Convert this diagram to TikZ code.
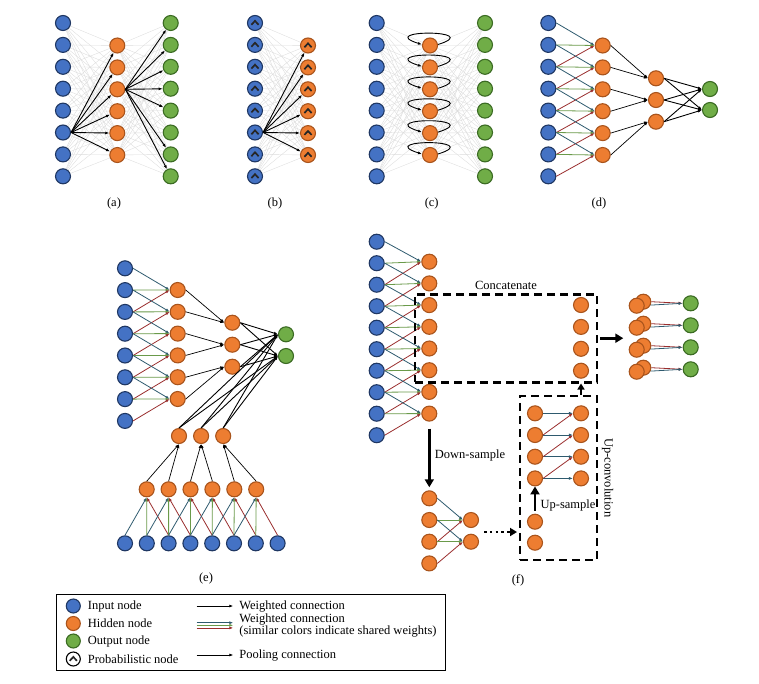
\documentclass[tikz,border=0pt]{standalone}
\usepackage{fontspec}
\setmainfont{Liberation Serif}
\usetikzlibrary{positioning,arrows.meta}
\definecolor{inblue}{HTML}{4472C4}
\definecolor{inborder}{HTML}{1F3763}
\definecolor{hidorange}{HTML}{ED7D31}
\definecolor{hidborder}{HTML}{A9541C}
\definecolor{outgreen}{HTML}{70AD47}
\definecolor{outborder}{HTML}{3B6B23}
\definecolor{wteal}{HTML}{2E5A6E}
\definecolor{wgreen}{HTML}{6A9A4A}
\definecolor{wred}{HTML}{9A2E2E}
\begin{document}
\begin{tikzpicture}[x=1pt,y=1pt,>={Latex[length=4pt,width=3pt]},
  font=\fontsize{12.5}{11.7}\selectfont,
  inp/.style={circle,draw=inborder,fill=inblue,line width=1.1pt,minimum size=15pt,inner sep=0pt},
  hid/.style={inp,draw=hidborder,fill=hidorange},
  outp/.style={inp,draw=outborder,fill=outgreen},
  prob/.style={path picture={\draw[line width=1.7pt,black!85]([xshift=-3.6pt,yshift=-1.8pt]path picture bounding box.center)--++(3.6pt,3.9pt)--++(3.6pt,-3.9pt);}},
  faint/.style={draw=black!14,line width=0.35pt},
  wc/.style={->,line width=0.9pt},
  pool/.style={->,line width=0.7pt},
  wt/.style={->,wteal,line width=0.8pt},
  wg/.style={->,wgreen,line width=0.8pt},
  wr/.style={->,wred,line width=0.8pt},
  bigar/.style={-{Triangle[length=8pt,width=9pt]},line width=2.6pt},
  dotar/.style={-{Triangle[length=7pt,width=8pt]},line width=2.6pt,dash pattern=on 2.6pt off 3.2pt},
  dbox/.style={draw,line width=2.6pt,dash pattern=on 8pt off 5pt,inner sep=0pt}]
\useasboundingbox (0,0) rectangle (759,-683);

\foreach \i in {0,...,7} \node[inp] (ai\i) at (63,{-23-21.9*\i}) {};
\foreach \j in {0,...,5} \node[hid] (ah\j) at (117.3,{-45.5-21.9*\j}) {};
\foreach \i in {0,...,7} \node[outp] (ao\i) at (170.7,{-23-21.9*\i}) {};
\foreach \i in {0,...,7}\foreach \j in {0,...,5}{\draw[faint] (ai\i)--(ah\j); \draw[faint] (ah\j)--(ao\i);}
\foreach \j in {0,...,5} \draw[wc] (ai5.east)--(ah\j);
\foreach \i in {0,1,2,3,4,6,7} \draw[wc] (ah2.east)--(ao\i);
\node (la) at (114,-203) {(a)};

\foreach \i in {0,...,7} \node[inp,prob] (bi\i) at (255,{-23-21.9*\i}) {};
\foreach \j in {0,...,5} \node[hid,prob] (bh\j) at (308,{-45.5-21.9*\j}) {};
\foreach \i in {0,...,7}\foreach \j in {0,...,5} \draw[faint] (bi\i)--(bh\j);
\foreach \j in {0,...,5} \draw[wc] (bi5.east)--(bh\j);
\node (lb) at (275,-203) {(b)};

\foreach \i in {0,...,7} \node[inp] (ci\i) at (376.7,{-23-21.9*\i}) {};
\foreach \j in {0,...,5} \node[hid] (ch\j) at (430,{-45.5-21.9*\j}) {};
\foreach \i in {0,...,7} \node[outp] (co\i) at (485,{-23-21.9*\i}) {};
\foreach \i in {0,...,7}\foreach \j in {0,...,5}{\draw[faint] (ci\i)--(ch\j); \draw[faint] (ch\j)--(co\i);}
\foreach \j in {0,...,5} \draw[wc] ([yshift=1pt]ch\j.east) .. controls +(48,15) and +(-48,15) .. ([yshift=1pt]ch\j.west);
\node (lc) at (431.7,-203) {(c)};

\foreach \i in {0,...,7} \node[inp] (di\i) at (548.3,{-23-21.9*\i}) {};
\foreach \j in {0,...,5} \node[hid] (dh\j) at (602.7,{-45.5-21.9*\j}) {};
\foreach \k in {0,1,2} \node[hid] (dp\k) at (656,{-78.3-21.7*\k}) {};
\foreach \m in {0,1} \node[outp] (do\m) at (710,{-89-21*\m}) {};
\foreach \j in {0,...,5}{\pgfmathtruncatemacro\ja{\j+1}\pgfmathtruncatemacro\jb{\j+2}
  \draw[wt] (di\j.east)--(dh\j.west); \draw[wg] (di\ja.east)--(dh\j.west); \draw[wr] (di\jb.east)--(dh\j.west);}
\foreach \k in {0,1,2}{\pgfmathtruncatemacro\ka{2*\k}\pgfmathtruncatemacro\kb{2*\k+1}
  \draw[pool] (dh\ka.east)--(dp\k.west); \draw[pool] (dh\kb.east)--(dp\k.west);}
\foreach \k in {0,1,2}\foreach \m in {0,1} \draw[wc] (dp\k.east)--(do\m.west);
\node (ld) at (599,-203) {(d)};

\foreach \i in {0,...,7} \node[inp] (ei\i) at (125,{-268.3-21.8*\i}) {};
\foreach \j in {0,...,5} \node[hid] (eh\j) at (177.7,{-290-21.8*\j}) {};
\foreach \k in {0,1,2} \node[hid] (ep\k) at (232.3,{-322.7-22*\k}) {};
\foreach \m in {0,1} \node[outp] (eo\m) at (286,{-334.3-21.7*\m}) {};
\foreach \i in {0,...,7} \node[inp] (ex\i) at ({125+21.8*\i},-543.3) {};
\foreach \j in {0,...,5} \node[hid] (ec\j) at ({146.7+21.9*\j},-489.3) {};
\foreach \k in {0,1,2} \node[hid] (eq\k) at ({179+22.1*\k},-436) {};
\foreach \j in {0,...,5}{\pgfmathtruncatemacro\ja{\j+1}\pgfmathtruncatemacro\jb{\j+2}
  \draw[wt] (ei\j.east)--(eh\j.west); \draw[wg] (ei\ja.east)--(eh\j.west); \draw[wr] (ei\jb.east)--(eh\j.west);
  \draw[wt] (ex\j.north)--(ec\j.south); \draw[wg] (ex\ja.north)--(ec\j.south); \draw[wr] (ex\jb.north)--(ec\j.south);}
\foreach \k in {0,1,2}{\pgfmathtruncatemacro\ka{2*\k}\pgfmathtruncatemacro\kb{2*\k+1}
  \draw[pool] (eh\ka.east)--(ep\k.west); \draw[pool] (eh\kb.east)--(ep\k.west);
  \draw[pool] (ec\ka.north)--(eq\k.south); \draw[pool] (ec\kb.north)--(eq\k.south);}
\foreach \k in {0,1,2}\foreach \m in {0,1}{\draw[wc] (ep\k.east)--(eo\m.west); \draw[wc] (eq\k.north)--(eo\m.west);}
\node (le) at (206,-578) {(e)};

\foreach \i in {0,...,9} \node[inp] (fi\i) at (376.7,{-241.7-21.5*\i}) {};
\foreach \j in {0,...,7} \node[hid] (fh\j) at (429.3,{-261.7-21.7*\j}) {};
\foreach \j in {0,...,7}{\pgfmathtruncatemacro\ja{\j+1}\pgfmathtruncatemacro\jb{\j+2}
  \draw[wt] (fi\j.east)--(fh\j.west); \draw[wg] (fi\ja.east)--(fh\j.west); \draw[wr] (fi\jb.east)--(fh\j.west);}
\node[dbox,minimum width=182pt,minimum height=88pt] (concat) at (506,-338.2) {};
\node[above=0pt of concat] (lconcat) {Concatenate};
\foreach \k in {0,...,3} \node[hid] (fc\k) at (581,{-305-21.9*\k}) {};
\foreach \k in {0,...,3}{\node[hid] (fk\k) at (643.3,{-301.7-22*\k}) {}; \node[hid] (ff\k) at (636.7,{-305.7-22*\k}) {};
  \node[outp] (fo\k) at (690.7,{-303.3-22*\k}) {};
  \draw[wr] (fk\k.east)--(fo\k.west); \draw[wt] (fk\k.-25)--(fo\k.west);}
\coordinate[right=25pt of concat.east] (ftip);
\draw[bigar] ([xshift=2pt]concat.east)--(ftip);

\node[dbox,minimum width=77pt,minimum height=164pt] (upconv) at (558.5,-477.8) {};
\node[rotate=-90,anchor=south] (lupconv) at (upconv.east) {Up-convolution};
\foreach \k in {0,...,3}{\node[hid] (fu\k) at (535,{-413.3-21.7*\k}) {}; \node[hid] (fv\k) at (581,{-413.3-21.7*\k}) {};
  \draw[wt] (fu\k.east)--(fv\k.west);}
\foreach \k in {1,2,3}{\pgfmathtruncatemacro\kp{\k-1} \draw[wr] (fu\k.east)--(fv\kp.west);}
\node[hid] (fb0) at (535,-521.7) {};
\node[hid] (fb1) at (535,-542.7) {};
\draw[bigar,shorten <=3pt] (fb0)--(fu3) node[pos=0.3,right=1pt] (lup) {Up-sample};
\draw[-{Triangle[length=6pt,width=7pt]},line width=1.6pt] (upconv.north -| fv0)--(concat.south -| fv0);

\foreach \k in {0,...,3} \node[hid] (fl\k) at (429.3,{-498.3-21.7*\k}) {};
\foreach \k in {0,1} \node[hid] (fm\k) at (471,{-520-21.7*\k}) {};
\foreach \k in {0,1}{\pgfmathtruncatemacro\ka{\k+1}\pgfmathtruncatemacro\kb{\k+2}
  \draw[wt] (fl\k.east)--(fm\k.west); \draw[wg] (fl\ka.east)--(fm\k.west); \draw[wr] (fl\kb.east)--(fm\k.west);}
\draw[bigar,shorten <=7pt,shorten >=3pt] (fh7)--(fl0) node[midway,right=1pt] (ldown) {Down-sample};
\coordinate (fds) at (484,-532);
\coordinate (fde) at (517,-532);
\draw[dotar] (fds)--(fde);
\node (lf) at (518,-580) {(f)};

\node[draw,line width=1pt,minimum width=389pt,minimum height=76.7pt,inner sep=0pt] (legend) at (251.4,-632.4) {};
\node[inp,minimum size=14pt] (lgin) at (73.3,-606) {};
\node[hid,minimum size=14pt] (lghid) at (73.3,-623.5) {};
\node[outp,minimum size=14pt] (lgout) at (73.3,-641) {};
\node[inp,prob,draw=black,fill=white,minimum size=14pt] (lgpr) at (73.3,-659) {};
\node[right=3.5pt of lgin] (lgtin) {Input node};
\node[right=3.5pt of lghid] (lgthid) {Hidden node};
\node[right=3.5pt of lgout] (lgtout) {Output node};
\node[right=3.5pt of lgpr] (lgtpr) {Probabilistic node};
\coordinate (lgws) at (196.7,-606); \coordinate (lgwe) at (233.3,-606);
\coordinate (lgts) at (196.7,-622.7); \coordinate (lgte) at (233.3,-622.7);
\coordinate (lggs) at (196.7,-625.3); \coordinate (lgge) at (233.3,-625.3);
\coordinate (lgrs) at (196.7,-627.9); \coordinate (lgre) at (233.3,-627.9);
\coordinate (lgps) at (196.7,-655); \coordinate (lgpe) at (233.3,-655);
\draw[wc] (lgws)--(lgwe);
\draw[wt] (lgts)--(lgte);
\draw[wg] (lggs)--(lgge);
\draw[wr] (lgrs)--(lgre);
\draw[pool] (lgps)--(lgpe);
\node[right=2.5pt of lgwe] (lgtw) {Weighted connection};
\node[right=2.5pt of lgge,align=left] (lgtsh) {Weighted connection\\(similar colors indicate shared weights)};
\node[right=2.5pt of lgpe] (lgtp) {Pooling connection};
\end{tikzpicture}
\end{document}
